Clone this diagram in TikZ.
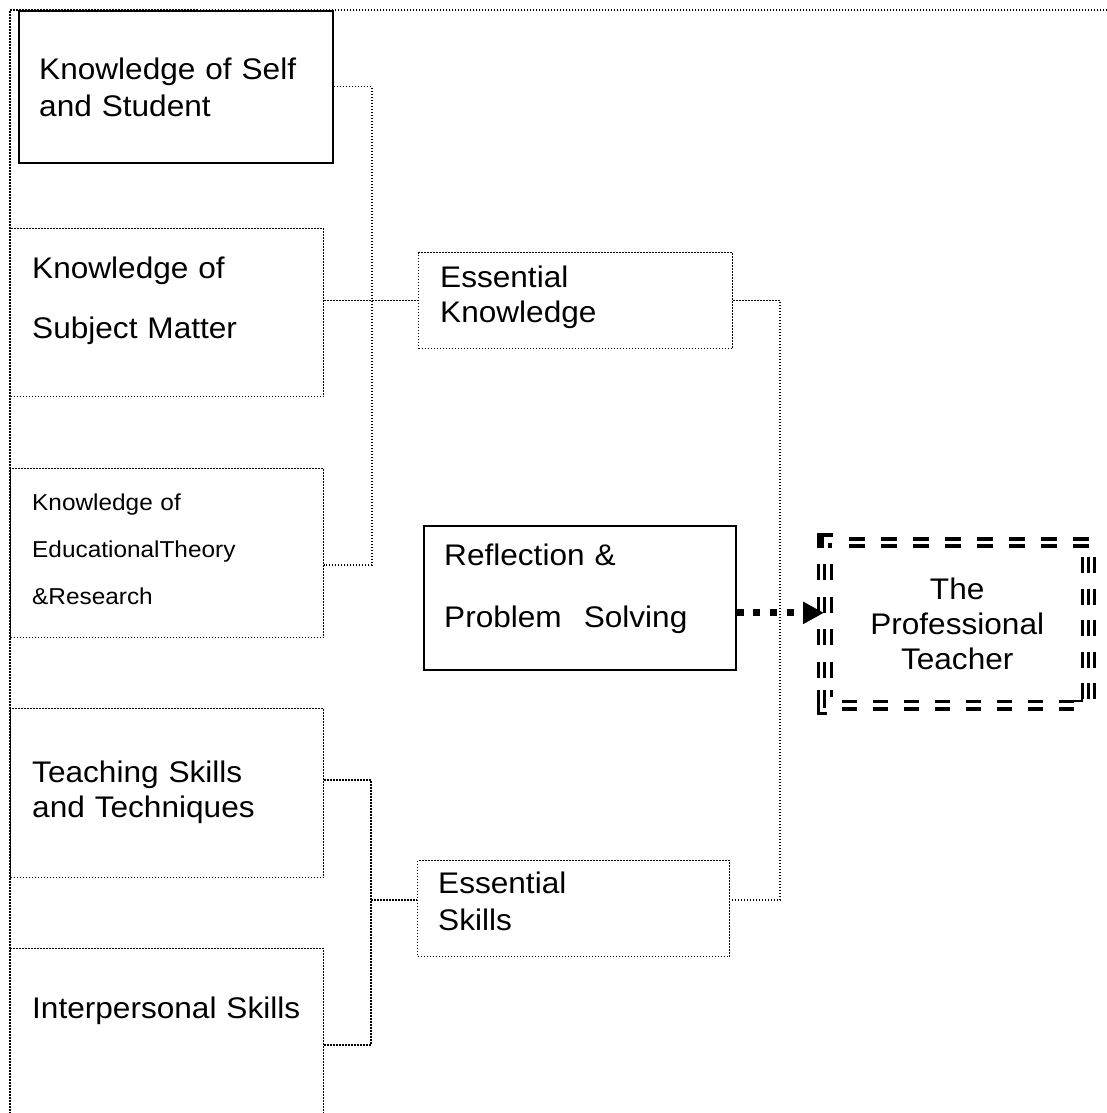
\documentclass[tikz,border=0pt]{standalone}
\usepackage{fontspec}
\setmainfont{Liberation Sans}[FakeStretch=1.06]
\usetikzlibrary{arrows.meta,calc}
\begin{document}
\begin{tikzpicture}[x=1pt,y=-1pt,
  dotline/.style={line width=1.3pt, dash pattern=on 1.5pt off 1.5pt},
  solidbox/.style={draw, line width=1.7pt, inner sep=0pt, anchor=north west},
  dotbox/.style={draw, dotline, inner sep=0pt, anchor=north west},
  lbl/.style={inner sep=0pt, anchor=base west, align=left, text width=320pt},
  bigfont/.style={font=\fontsize{29.8}{#1}\selectfont},
  ptline/.style={line width=#1, line cap=butt},
]
\useasboundingbox (0,0) rectangle (1107,1113);
\clip (0,0) rectangle (1107,1113);
\fill[white] (0,0) rectangle (1107,1113);

% outer frame
\draw[dotline] (1107,10) -- (10,10) -- (10,1113);

% boxes
\node[solidbox, minimum width=314pt, minimum height=152pt] (b1) at (18,10) {};
\node[dotbox, minimum width=313pt, minimum height=168pt] (b2) at (10,228) {};
\node[dotbox, minimum width=313pt, minimum height=169pt] (b3) at (10,468) {};
\node[dotbox, minimum width=313pt, minimum height=169pt] (b4) at (10,708) {};
\node[dotbox, minimum width=313pt, minimum height=185pt] (b5) at (10,948) {};
\node[dotbox, minimum width=314pt, minimum height=96pt] (ek) at (418,252) {};
\node[solidbox, minimum width=312pt, minimum height=144pt] (rf) at (423,525) {};
\node[dotbox, minimum width=312pt, minimum height=96pt] (es) at (417,860) {};
\node[anchor=north west, minimum width=280pt, minimum height=182pt, inner sep=0pt,
      align=center, bigfont=35] (pt) at (817,533) {The\\Professional\\Teacher};

% labels
\node[lbl, bigfont=37] (b1t) at (39,80) {Knowledge of Self\\and Student};
\node[lbl, bigfont=60] (b2t) at (32,278) {Knowledge of\\Subject Matter};
\node[lbl, font=\fontsize{23}{47}\selectfont] (b3t) at (32,510) {Knowledge of\\EducationalTheory\\\&Research};
\node[lbl, bigfont=35] (b4t) at (32,782) {Teaching Skills\\and Techniques};
\node[lbl, bigfont=35] (b5t) at (32,1018) {Interpersonal Skills};
\node[lbl, bigfont=35] (ekt) at (440,287) {Essential\\Knowledge};
\node[lbl, bigfont=62] (rft) at (444,565) {Reflection \&\\Problem\hspace{22pt}Solving};
\node[lbl, bigfont=37] (est) at (438,893) {Essential\\Skills};

% connectors
\coordinate (kc) at (372,565);
\draw[dotline] (b1.east) -| (kc) -- (kc -| b3.east);
\draw[dotline] (b2.east |- ek.west) -- (ek.west);
\coordinate (rc) at (780,900);
\draw[dotline] (ek.east) -| (rc) -- (rc -| es.east);
\coordinate (s1) at (371,780);
\coordinate (s2) at (371,1045);
\coordinate (s3) at (371,900);
\draw[dotline] (s1 -| b4.east) -- (s1) -- (s2) -- (s2 -| b5.east);
\draw[dotline] (s3) -- (s3 -| es.west);

% arrow
\coordinate (ar) at ([yshift=-15pt]rf.east);
\path (ar -| pt.west) coordinate (ae);
\draw[line width=7pt, dash pattern=on 7pt off 9.7pt,
      -{Triangle[length=21pt,width=21pt]}] (ar) -- ([xshift=7pt]ae);

% professional teacher border
\begin{scope}[shift={(pt.north west)}]
  % top
  \draw[ptline=3.2pt, dash pattern=on 16pt off 16pt] (32,6) -- (273,6);
  \draw[ptline=3.2pt, dash pattern=on 16pt off 16pt] (32,13) -- (273,13);
  % top-left corner
  \fill (0,0) rectangle (16,4.3);
  \fill (0,0) rectangle (6.5,15);
  \fill (11,10) rectangle (15,15);
  % left
  \foreach \xx in {1.7,7.7,14.3}
    \draw[ptline=3.4pt, dash pattern=on 16pt off 16.5pt] (\xx,31) -- (\xx,147);
  % bottom-left corner
  \fill (0,157) rectangle (3.3,182);
  \fill (0,179) rectangle (10,182);
  \fill (6,157) rectangle (9.3,175);
  \fill (12.5,157) rectangle (15.5,164);
  % bottom
  \draw[ptline=3.2pt, dash pattern=on 15pt off 16pt] (25,168.5) -- (258,168.5);
  \draw[ptline=3.6pt, dash pattern=on 15pt off 16pt] (25,176) -- (258,176);
  % bottom-right corner
  \fill (263.7,152) rectangle (266.3,169);
  \fill (248,166.5) rectangle (266.3,169);
  % right
  \foreach \xx in {265.5,271.5,277.5}
    \draw[ptline=3.2pt, dash pattern=on 16pt off 15.5pt] (\xx,24) -- (\xx,169);
\end{scope}
\end{tikzpicture}
\end{document}
